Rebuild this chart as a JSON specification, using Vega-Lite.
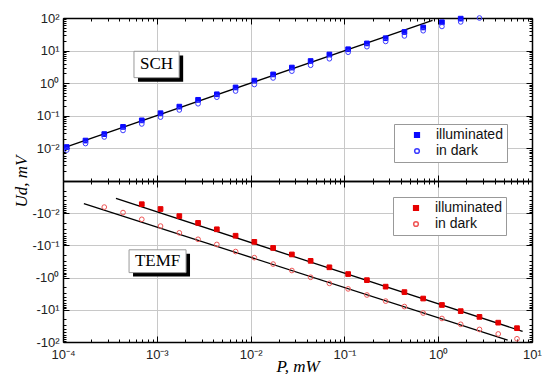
{
  "$schema": "https://vega.github.io/schema/vega-lite/v6.json",
  "background": "white",
  "padding": {"left": 12, "top": 12, "right": 0, "bottom": 0},
  "spacing": 0,
  "bounds": "flush",
  "datasets": {
    "top": [
      {"P": 0.0001096, "U": 0.011, "series": "illuminated"},
      {"P": 0.0001738, "U": 0.0174, "series": "illuminated"},
      {"P": 0.0002754, "U": 0.0275, "series": "illuminated"},
      {"P": 0.0004365, "U": 0.0457, "series": "illuminated"},
      {"P": 0.0006918, "U": 0.0724, "series": "illuminated"},
      {"P": 0.001096, "U": 0.12, "series": "illuminated"},
      {"P": 0.001738, "U": 0.191, "series": "illuminated"},
      {"P": 0.002754, "U": 0.309, "series": "illuminated"},
      {"P": 0.004365, "U": 0.457, "series": "illuminated"},
      {"P": 0.006918, "U": 0.741, "series": "illuminated"},
      {"P": 0.01096, "U": 1.2, "series": "illuminated"},
      {"P": 0.01738, "U": 1.86, "series": "illuminated"},
      {"P": 0.02754, "U": 3.02, "series": "illuminated"},
      {"P": 0.04365, "U": 4.79, "series": "illuminated"},
      {"P": 0.06918, "U": 7.59, "series": "illuminated"},
      {"P": 0.1096, "U": 11.0, "series": "illuminated"},
      {"P": 0.1738, "U": 16.6, "series": "illuminated"},
      {"P": 0.2754, "U": 24.0, "series": "illuminated"},
      {"P": 0.4365, "U": 37.2, "series": "illuminated"},
      {"P": 0.6918, "U": 51.3, "series": "illuminated"},
      {"P": 1.096, "U": 74.1, "series": "illuminated"},
      {"P": 1.738, "U": 95.5, "series": "illuminated"},
      {"P": 0.0001096, "U": 0.0089, "series": "in dark"},
      {"P": 0.0001738, "U": 0.0141, "series": "in dark"},
      {"P": 0.0002754, "U": 0.0224, "series": "in dark"},
      {"P": 0.0004365, "U": 0.0355, "series": "in dark"},
      {"P": 0.0006918, "U": 0.0562, "series": "in dark"},
      {"P": 0.001096, "U": 0.0912, "series": "in dark"},
      {"P": 0.001738, "U": 0.151, "series": "in dark"},
      {"P": 0.002754, "U": 0.234, "series": "in dark"},
      {"P": 0.004365, "U": 0.372, "series": "in dark"},
      {"P": 0.006918, "U": 0.575, "series": "in dark"},
      {"P": 0.01096, "U": 0.912, "series": "in dark"},
      {"P": 0.01738, "U": 1.45, "series": "in dark"},
      {"P": 0.02754, "U": 2.34, "series": "in dark"},
      {"P": 0.04365, "U": 3.55, "series": "in dark"},
      {"P": 0.06918, "U": 5.62, "series": "in dark"},
      {"P": 0.1096, "U": 8.91, "series": "in dark"},
      {"P": 0.1738, "U": 13.2, "series": "in dark"},
      {"P": 0.2754, "U": 19.1, "series": "in dark"},
      {"P": 0.4365, "U": 28.2, "series": "in dark"},
      {"P": 0.6918, "U": 40.7, "series": "in dark"},
      {"P": 1.096, "U": 55.0, "series": "in dark"},
      {"P": 1.738, "U": 75.9, "series": "in dark"},
      {"P": 2.754, "U": 100, "series": "in dark"}
    ],
    "bottom": [
      {"P": 0.0006918, "negU": 0.00525, "series": "illuminated"},
      {"P": 0.001096, "negU": 0.00741, "series": "illuminated"},
      {"P": 0.001738, "negU": 0.0123, "series": "illuminated"},
      {"P": 0.002754, "negU": 0.02, "series": "illuminated"},
      {"P": 0.004365, "negU": 0.0316, "series": "illuminated"},
      {"P": 0.006918, "negU": 0.0501, "series": "illuminated"},
      {"P": 0.01096, "negU": 0.0776, "series": "illuminated"},
      {"P": 0.01738, "negU": 0.12, "series": "illuminated"},
      {"P": 0.02754, "negU": 0.191, "series": "illuminated"},
      {"P": 0.04365, "negU": 0.302, "series": "illuminated"},
      {"P": 0.06918, "negU": 0.479, "series": "illuminated"},
      {"P": 0.1096, "negU": 0.776, "series": "illuminated"},
      {"P": 0.1738, "negU": 1.2, "series": "illuminated"},
      {"P": 0.2754, "negU": 1.91, "series": "illuminated"},
      {"P": 0.4365, "negU": 2.82, "series": "illuminated"},
      {"P": 0.6918, "negU": 4.47, "series": "illuminated"},
      {"P": 1.096, "negU": 7.08, "series": "illuminated"},
      {"P": 1.738, "negU": 11.0, "series": "illuminated"},
      {"P": 2.754, "negU": 16.6, "series": "illuminated"},
      {"P": 4.365, "negU": 25.1, "series": "illuminated"},
      {"P": 6.918, "negU": 37.2, "series": "illuminated"},
      {"P": 0.0002754, "negU": 0.00646, "series": "in dark"},
      {"P": 0.0004365, "negU": 0.00955, "series": "in dark"},
      {"P": 0.0006918, "negU": 0.0155, "series": "in dark"},
      {"P": 0.001096, "negU": 0.0251, "series": "in dark"},
      {"P": 0.001738, "negU": 0.0407, "series": "in dark"},
      {"P": 0.002754, "negU": 0.0646, "series": "in dark"},
      {"P": 0.004365, "negU": 0.0933, "series": "in dark"},
      {"P": 0.006918, "negU": 0.155, "series": "in dark"},
      {"P": 0.01096, "negU": 0.24, "series": "in dark"},
      {"P": 0.01738, "negU": 0.38, "series": "in dark"},
      {"P": 0.02754, "negU": 0.603, "series": "in dark"},
      {"P": 0.04365, "negU": 0.977, "series": "in dark"},
      {"P": 0.06918, "negU": 1.51, "series": "in dark"},
      {"P": 0.1096, "negU": 2.24, "series": "in dark"},
      {"P": 0.1738, "negU": 3.47, "series": "in dark"},
      {"P": 0.2754, "negU": 5.37, "series": "in dark"},
      {"P": 0.4365, "negU": 7.94, "series": "in dark"},
      {"P": 0.6918, "negU": 12.6, "series": "in dark"},
      {"P": 1.096, "negU": 18.6, "series": "in dark"},
      {"P": 1.738, "negU": 28.2, "series": "in dark"},
      {"P": 2.754, "negU": 40.7, "series": "in dark"},
      {"P": 4.365, "negU": 56.2, "series": "in dark"},
      {"P": 6.918, "negU": 79.4, "series": "in dark"}
    ],
    "topfit": [
      {"P": 0.000107, "U": 0.011, "fit": "a"},
      {"P": 0.87, "U": 85, "fit": "a"}
    ],
    "bottomfit": [
      {"P": 0.000367, "negU": 0.00347, "fit": "a"},
      {"P": 7.94, "negU": 46.8, "fit": "a"},
      {"P": 0.000167, "negU": 0.005, "fit": "b"},
      {"P": 5.5, "negU": 87, "fit": "b"}
    ]
  },
  "vconcat": [
    {
      "width": 469,
      "height": 163,
      "layer": [
        {
          "data": {"values": [{"x1": 0.00063, "x2": 0.00191, "y1": 1.11, "y2": 7.13}]},
          "mark": {"type": "rect", "fill": "black"},
          "encoding": {
            "x": {"field": "x1", "type": "quantitative", "scale": {"type": "log", "domain": [0.0001, 10], "nice": false}, "axis": null},
            "x2": {"field": "x2"},
            "y": {"field": "y1", "type": "quantitative", "scale": {"type": "log", "domain": [0.001, 100], "nice": false}, "axis": null},
            "y2": {"field": "y2"}
          }
        },
        {
          "data": {"values": [{"x1": 0.000571, "x2": 0.00173, "y1": 1.48, "y2": 9.5}]},
          "mark": {"type": "rect", "fill": "white", "stroke": "#999999", "strokeWidth": 1},
          "encoding": {
            "x": {"field": "x1", "type": "quantitative", "scale": {"type": "log", "domain": [0.0001, 10], "nice": false}, "axis": null},
            "x2": {"field": "x2"},
            "y": {"field": "y1", "type": "quantitative", "scale": {"type": "log", "domain": [0.001, 100], "nice": false}, "axis": null},
            "y2": {"field": "y2"}
          }
        },
        {
          "data": {"values": [{"x": 0.000995, "y": 3.75, "label": "SCH"}]},
          "mark": {"type": "text", "font": "Liberation Serif", "fontSize": 17, "color": "black", "baseline": "middle", "align": "center"},
          "encoding": {
            "x": {"field": "x", "type": "quantitative", "scale": {"type": "log", "domain": [0.0001, 10], "nice": false}, "axis": null},
            "y": {"field": "y", "type": "quantitative", "scale": {"type": "log", "domain": [0.001, 100], "nice": false}, "axis": null},
            "text": {"field": "label"}
          }
        },
        {
          "data": {"name": "topfit"},
          "mark": {"type": "line", "color": "black", "strokeWidth": 1.3},
          "encoding": {
            "x": {"field": "P", "type": "quantitative", "scale": {"type": "log", "domain": [0.0001, 10], "nice": false},
              "axis": {"orient": "top", "title": null, "labels": false, "grid": false,
                "values": [0.0001,0.0002,0.0003,0.0004,0.0005,0.0006,0.0007,0.0008,0.0009,0.001,0.002,0.003,0.004,0.005,0.006,0.007,0.008,0.009,0.01,0.02,0.03,0.04,0.05,0.06,0.07,0.08,0.09,0.1,0.2,0.3,0.4,0.5,0.6,0.7,0.8,0.9,1,2,3,4,5,6,7,8,9,10],
                "tickSize": {"condition": {"test": "abs(log(datum.value)/LN10 - round(log(datum.value)/LN10)) < 0.01", "value": -6}, "value": -3}}},
            "y": {"field": "U", "type": "quantitative", "scale": {"type": "log", "domain": [0.001, 100], "nice": false},
              "axis": {"orient": "right", "title": null, "labels": false, "grid": false,
                "values": [0.001,0.002,0.003,0.004,0.005,0.006,0.007,0.008,0.009,0.01,0.02,0.03,0.04,0.05,0.06,0.07,0.08,0.09,0.1,0.2,0.3,0.4,0.5,0.6,0.7,0.8,0.9,1,2,3,4,5,6,7,8,9,10,20,30,40,50,60,70,80,90,100],
                "tickSize": {"condition": {"test": "abs(log(datum.value)/LN10 - round(log(datum.value)/LN10)) < 0.01", "value": -6}, "value": -3}}},
            "detail": {"field": "fit"}
          }
        },
        {
          "data": {"name": "top"},
          "mark": {"type": "point", "size": 22, "strokeWidth": 1, "opacity": 1},
          "encoding": {
            "x": {"field": "P", "type": "quantitative", "scale": {"type": "log", "domain": [0.0001, 10], "nice": false},
              "axis": {"orient": "bottom", "title": null, "labels": false, "grid": true,
                "values": [0.0001,0.0002,0.0003,0.0004,0.0005,0.0006,0.0007,0.0008,0.0009,0.001,0.002,0.003,0.004,0.005,0.006,0.007,0.008,0.009,0.01,0.02,0.03,0.04,0.05,0.06,0.07,0.08,0.09,0.1,0.2,0.3,0.4,0.5,0.6,0.7,0.8,0.9,1,2,3,4,5,6,7,8,9,10],
                "gridOpacity": {"condition": {"test": "abs(log(datum.value)/LN10 - round(log(datum.value)/LN10)) < 0.01", "value": 1}, "value": 0},
                "tickSize": {"condition": {"test": "abs(log(datum.value)/LN10 - round(log(datum.value)/LN10)) < 0.01", "value": -6}, "value": -3}}},
            "y": {"field": "U", "type": "quantitative", "scale": {"type": "log", "domain": [0.001, 100], "nice": false},
              "axis": {"orient": "left", "grid": true, "labelOverlap": false, "labelFlush": false, "labelBound": false,
                "values": [0.001,0.002,0.003,0.004,0.005,0.006,0.007,0.008,0.009,0.01,0.02,0.03,0.04,0.05,0.06,0.07,0.08,0.09,0.1,0.2,0.3,0.4,0.5,0.6,0.7,0.8,0.9,1,2,3,4,5,6,7,8,9,10,20,30,40,50,60,70,80,90,100],
                "labelExpr": "abs(log(datum.value)/LN10 - round(log(datum.value)/LN10)) < 0.01 ? ['','10⁻²','10⁻¹','10⁰','10¹','10²'][round(log(datum.value)/LN10)+3] : ''",
                "labelPadding": 10,
                "gridOpacity": {"condition": {"test": "abs(log(datum.value)/LN10 - round(log(datum.value)/LN10)) < 0.01", "value": 1}, "value": 0},
                "tickSize": {"condition": {"test": "abs(log(datum.value)/LN10 - round(log(datum.value)/LN10)) < 0.01", "value": -6}, "value": -3},
                "title": "Ud, mV", "titleFont": "Liberation Serif", "titleFontSize": 17, "titleFontWeight": "normal", "titleFontStyle": "italic", "titleColor": "black",
                "titleX": -42, "titleY": 163, "titleAngle": -90, "titleAlign": "center", "titleBaseline": "middle"}},
            "shape": {"field": "series", "type": "nominal", "scale": {"domain": ["illuminated", "in dark"], "range": ["square", "circle"]},
              "legend": {"orient": "none", "legendX": 331, "legendY": 106, "title": null, "padding": 4, "strokeColor": "#999999", "fillColor": "white", "labelFont": "Liberation Sans", "labelFontSize": 14, "labelColor": "#111111", "symbolSize": 22, "symbolOffset": 12, "labelOffset": 12, "rowPadding": 2}},
            "fill": {"field": "series", "type": "nominal", "scale": {"domain": ["illuminated", "in dark"], "range": ["#0a0aff", "transparent"]},
              "legend": {"orient": "none", "legendX": 331, "legendY": 106, "title": null, "padding": 4, "strokeColor": "#999999", "fillColor": "white", "labelFont": "Liberation Sans", "labelFontSize": 14, "labelColor": "#111111", "symbolSize": 22, "symbolOffset": 12, "labelOffset": 12, "rowPadding": 2}},
            "stroke": {"field": "series", "type": "nominal", "scale": {"domain": ["illuminated", "in dark"], "range": ["#0a0aff", "#3c3cff"]},
              "legend": {"orient": "none", "legendX": 331, "legendY": 106, "title": null, "padding": 4, "strokeColor": "#999999", "fillColor": "white", "labelFont": "Liberation Sans", "labelFontSize": 14, "labelColor": "#111111", "symbolSize": 22, "symbolOffset": 12, "labelOffset": 12, "rowPadding": 2}}
          }
        }
      ],
      "resolve": {"axis": {"x": "independent", "y": "independent"}}
    },
    {
      "width": 469,
      "height": 161,
      "layer": [
        {
          "data": {"values": [{"x1": 0.000558, "x2": 0.00226, "y1": 0.182, "y2": 0.93}]},
          "mark": {"type": "rect", "fill": "black"},
          "encoding": {
            "x": {"field": "x1", "type": "quantitative", "scale": {"type": "log", "domain": [0.0001, 10], "nice": false}, "axis": null},
            "x2": {"field": "x2"},
            "y": {"field": "y1", "type": "quantitative", "scale": {"type": "log", "domain": [0.001, 100], "nice": false, "reverse": true}, "axis": null},
            "y2": {"field": "y2"}
          }
        },
        {
          "data": {"values": [{"x1": 0.000506, "x2": 0.00205, "y1": 0.137, "y2": 0.7}]},
          "mark": {"type": "rect", "fill": "white", "stroke": "#999999", "strokeWidth": 1},
          "encoding": {
            "x": {"field": "x1", "type": "quantitative", "scale": {"type": "log", "domain": [0.0001, 10], "nice": false}, "axis": null},
            "x2": {"field": "x2"},
            "y": {"field": "y1", "type": "quantitative", "scale": {"type": "log", "domain": [0.001, 100], "nice": false, "reverse": true}, "axis": null},
            "y2": {"field": "y2"}
          }
        },
        {
          "data": {"values": [{"x": 0.00102, "y": 0.31, "label": "TEMF"}]},
          "mark": {"type": "text", "font": "Liberation Serif", "fontSize": 17, "color": "black", "baseline": "middle", "align": "center"},
          "encoding": {
            "x": {"field": "x", "type": "quantitative", "scale": {"type": "log", "domain": [0.0001, 10], "nice": false}, "axis": null},
            "y": {"field": "y", "type": "quantitative", "scale": {"type": "log", "domain": [0.001, 100], "nice": false, "reverse": true}, "axis": null},
            "text": {"field": "label"}
          }
        },
        {
          "data": {"name": "bottomfit"},
          "mark": {"type": "line", "color": "black", "strokeWidth": 1.3},
          "encoding": {
            "x": {"field": "P", "type": "quantitative", "scale": {"type": "log", "domain": [0.0001, 10], "nice": false},
              "axis": {"orient": "top", "title": null, "labels": false, "grid": false,
                "values": [0.0001,0.0002,0.0003,0.0004,0.0005,0.0006,0.0007,0.0008,0.0009,0.001,0.002,0.003,0.004,0.005,0.006,0.007,0.008,0.009,0.01,0.02,0.03,0.04,0.05,0.06,0.07,0.08,0.09,0.1,0.2,0.3,0.4,0.5,0.6,0.7,0.8,0.9,1,2,3,4,5,6,7,8,9,10],
                "tickSize": {"condition": {"test": "abs(log(datum.value)/LN10 - round(log(datum.value)/LN10)) < 0.01", "value": -6}, "value": -3}}},
            "y": {"field": "negU", "type": "quantitative", "scale": {"type": "log", "domain": [0.001, 100], "nice": false, "reverse": true},
              "axis": {"orient": "right", "title": null, "labels": false, "grid": false,
                "values": [0.001,0.002,0.003,0.004,0.005,0.006,0.007,0.008,0.009,0.01,0.02,0.03,0.04,0.05,0.06,0.07,0.08,0.09,0.1,0.2,0.3,0.4,0.5,0.6,0.7,0.8,0.9,1,2,3,4,5,6,7,8,9,10,20,30,40,50,60,70,80,90,100],
                "tickSize": {"condition": {"test": "abs(log(datum.value)/LN10 - round(log(datum.value)/LN10)) < 0.01", "value": -6}, "value": -3}}},
            "detail": {"field": "fit"}
          }
        },
        {
          "data": {"name": "bottom"},
          "mark": {"type": "point", "size": 22, "strokeWidth": 1, "opacity": 1},
          "encoding": {
            "x": {"field": "P", "type": "quantitative", "scale": {"type": "log", "domain": [0.0001, 10], "nice": false},
              "axis": {"orient": "bottom", "grid": true, "labelOverlap": false, "labelFlush": false, "labelBound": false,
                "values": [0.0001,0.0002,0.0003,0.0004,0.0005,0.0006,0.0007,0.0008,0.0009,0.001,0.002,0.003,0.004,0.005,0.006,0.007,0.008,0.009,0.01,0.02,0.03,0.04,0.05,0.06,0.07,0.08,0.09,0.1,0.2,0.3,0.4,0.5,0.6,0.7,0.8,0.9,1,2,3,4,5,6,7,8,9,10],
                "labelExpr": "abs(log(datum.value)/LN10 - round(log(datum.value)/LN10)) < 0.01 ? ['10⁻⁴','10⁻³','10⁻²','10⁻¹','10⁰','10¹'][round(log(datum.value)/LN10)+4] : ''",
                "labelPadding": 12,
                "gridOpacity": {"condition": {"test": "abs(log(datum.value)/LN10 - round(log(datum.value)/LN10)) < 0.01", "value": 1}, "value": 0},
                "tickSize": {"condition": {"test": "abs(log(datum.value)/LN10 - round(log(datum.value)/LN10)) < 0.01", "value": -6}, "value": -3},
                "title": "P, mW", "titleFont": "Liberation Serif", "titleFontSize": 17, "titleFontWeight": "normal", "titleFontStyle": "italic", "titleColor": "black", "titlePadding": -6}},
            "y": {"field": "negU", "type": "quantitative", "scale": {"type": "log", "domain": [0.001, 100], "nice": false, "reverse": true},
              "axis": {"orient": "left", "title": null, "grid": true, "labelOverlap": false, "labelFlush": false, "labelBound": false,
                "values": [0.001,0.002,0.003,0.004,0.005,0.006,0.007,0.008,0.009,0.01,0.02,0.03,0.04,0.05,0.06,0.07,0.08,0.09,0.1,0.2,0.3,0.4,0.5,0.6,0.7,0.8,0.9,1,2,3,4,5,6,7,8,9,10,20,30,40,50,60,70,80,90,100],
                "labelExpr": "abs(log(datum.value)/LN10 - round(log(datum.value)/LN10)) < 0.01 ? ['','-10⁻²','-10⁻¹','-10⁰','-10¹','-10²'][round(log(datum.value)/LN10)+3] : ''",
                "labelPadding": 10,
                "gridOpacity": {"condition": {"test": "abs(log(datum.value)/LN10 - round(log(datum.value)/LN10)) < 0.01", "value": 1}, "value": 0},
                "tickSize": {"condition": {"test": "abs(log(datum.value)/LN10 - round(log(datum.value)/LN10)) < 0.01", "value": -6}, "value": -3}}},
            "shape": {"field": "series", "type": "nominal", "scale": {"domain": ["illuminated", "in dark"], "range": ["square", "circle"]},
              "legend": {"orient": "none", "legendX": 330, "legendY": 16, "title": null, "padding": 4, "strokeColor": "#999999", "fillColor": "white", "labelFont": "Liberation Sans", "labelFontSize": 14, "labelColor": "#111111", "symbolSize": 22, "symbolOffset": 12, "labelOffset": 12, "rowPadding": 2}},
            "fill": {"field": "series", "type": "nominal", "scale": {"domain": ["illuminated", "in dark"], "range": ["#e60000", "transparent"]},
              "legend": {"orient": "none", "legendX": 330, "legendY": 16, "title": null, "padding": 4, "strokeColor": "#999999", "fillColor": "white", "labelFont": "Liberation Sans", "labelFontSize": 14, "labelColor": "#111111", "symbolSize": 22, "symbolOffset": 12, "labelOffset": 12, "rowPadding": 2}},
            "stroke": {"field": "series", "type": "nominal", "scale": {"domain": ["illuminated", "in dark"], "range": ["#e60000", "#f05555"]},
              "legend": {"orient": "none", "legendX": 330, "legendY": 16, "title": null, "padding": 4, "strokeColor": "#999999", "fillColor": "white", "labelFont": "Liberation Sans", "labelFontSize": 14, "labelColor": "#111111", "symbolSize": 22, "symbolOffset": 12, "labelOffset": 12, "rowPadding": 2}}
          }
        }
      ],
      "resolve": {"axis": {"x": "independent", "y": "independent"}}
    }
  ],
  "resolve": {"scale": {"shape": "independent", "fill": "independent", "stroke": "independent"}, "legend": {"shape": "independent", "fill": "independent", "stroke": "independent"}},
  "config": {
    "view": {"stroke": null},
    "axis": {
      "domainColor": "black", "domainWidth": 1.5,
      "tickColor": "black", "tickWidth": 1,
      "gridColor": "#c8c8c8", "gridWidth": 1,
      "labelFont": "Liberation Sans", "labelFontSize": 13, "labelColor": "#222222"
    }
  }
}
